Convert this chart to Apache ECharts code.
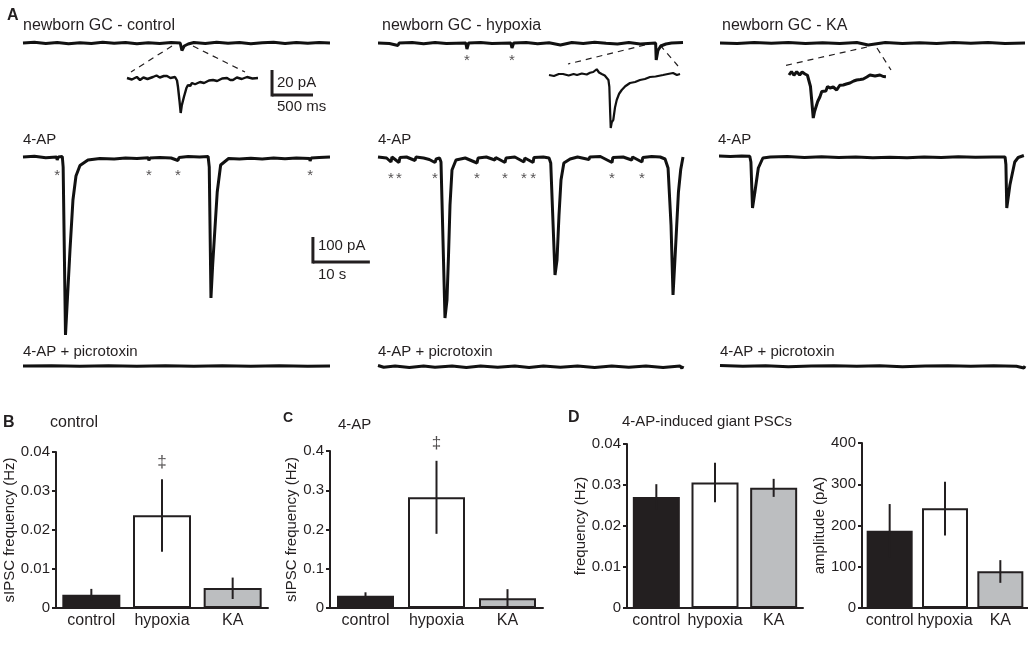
<!DOCTYPE html>
<html>
<head>
<meta charset="utf-8">
<script src="https://cdn.jsdelivr.net/npm/echarts@6/dist/echarts.min.js"></script>
<style>
html, body { margin: 0; padding: 0; background: #fff; }
#chart { width: 1028px; height: 651px; }
</style>
</head>
<body>
<div id="chart"></div>
<script>
// ---- bar chart data ----
const groups = ['control', 'hypoxia', 'KA']
const sipscCtrl = [0.0034, 0.0238, 0.0051]          // B
const sipscCtrlErr = [[0.0019, 0.0049], [0.0144, 0.033], [0.0023, 0.0078]]
const sipsc4ap = [0.031, 0.282, 0.025]               // C
const sipsc4apErr = [[0.022, 0.04], [0.189, 0.375], [0.002, 0.048]]
const giantFreq = [0.0271, 0.0306, 0.0293]           // D left
const giantFreqErr = [[0.024, 0.0302], [0.0258, 0.0354], [0.0271, 0.0315]]
const giantAmp = [187, 242, 89]                      // D right
const giantAmpErr = [[122, 252], [176, 306], [61, 116]]

// ---- traces: [time (s), current (pA)] ----
const ctrlBase = [[0,0],[2,3],[4,-2],[6,2],[8,-3],[10,1],[12,-2],[14,3],[16,-1],[18,2],[20,-3],[22,1],[24,-2],[26,2],[27.6,0],[27.9,-30],[28.3,-12],[29,-4],[30,2],[32,-2],[34,3],[36,-1],[38,2],[40,-3],[42,1],[44,3],[46,-2],[48,2],[50,-1],[52,2],[53.9,0]]
const hypoBase = [[0,0],[2,-2],[3.5,-10],[3.7,0],[6,2],[8,-3],[10,2],[12,-2],[15.4,0],[15.6,-24],[15.9,0],[18,2],[20,-2],[23.3,0],[23.5,-20],[23.8,0],[26,2],[28,-3],[30,1],[32,-8],[32.2,0],[34,2],[36,-2],[38,3],[40,-1],[42,-4],[44,2],[46,-4],[48.7,0],[48.8,-68],[49.1,-30],[49.6,-12],[50.5,-4],[51.5,0],[53.5,2]]
const kaBase = [[0,0],[3,-2],[6,2],[9,-1],[12,2],[15,-2],[18,1],[21,-2],[24,2],[26,-8],[26.3,0],[29,2],[32,-2],[35,1],[38,-2],[41,2],[44,-1],[47,2],[50,-2],[53.5,0]]

const ctrl4ap = [[0,0],[2,3],[4,-3],[5.9,0],[6.0,-12],[6.2,0],[6.9,2],[7.05,-40],[7.46,-712],[7.72,-600],[8.25,-372],[8.77,-172],[9.3,-76],[10.0,-34],[11.4,-12],[13.5,-6],[16,-8],[18,-4],[20,-6],[22,-3],[22.1,-14],[22.3,-4],[24,-2],[26,-4],[27.2,-14],[27.4,-2],[29,2],[31,0],[32.5,2],[32.7,-40],[33.0,-564],[33.3,-432],[34.1,-140],[34.7,-32],[36.1,-6],[38,-8],[40,-5],[42,-8],[44,-4],[46,-7],[48,-4],[50.3,-6],[50.4,-16],[50.6,-4],[52,-2],[53.9,0]]
const hypo4ap = [[0,0],[1.5,-4],[2.28,-20],[2.45,0],[3.68,-22],[3.85,-2],[5,0],[6.5,-14],[6.65,0],[8,-4],[9,-10],[10,-22],[10.2,-8],[10.8,-4],[11.05,-20],[11.75,-644],[12.1,-572],[12.37,-392],[12.63,-192],[12.98,-52],[13.68,-12],[15.3,-4],[17.37,-24],[17.55,-4],[19,0],[20.5,-12],[20.65,-2],[22.28,-22],[22.45,-4],[24,0],[25.6,-20],[25.75,-4],[27.2,-22],[27.35,-2],[29,0],[30.0,-4],[30.3,-24],[31.05,-472],[31.4,-412],[31.75,-232],[32.1,-92],[32.6,-24],[33.7,-8],[35,0],[37,-10],[37.15,0],[39,2],[41.05,-22],[41.2,-2],[43,0],[44.5,-12],[44.65,0],[46.3,-20],[46.45,-2],[48,2],[49.5,0],[50.35,-8],[50.88,-44],[51.4,-272],[51.75,-552],[52.1,-404],[52.7,-140],[53.1,-50],[53.5,0]]
const ka4ap = [[0,4],[2,2],[4,4],[5.4,3],[5.6,-20],[5.88,-204],[6.3,-140],[6.9,-44],[7.7,-4],[9,0],[12,2],[15,-2],[18,1],[21,-2],[24,0],[27,-3],[30,-1],[33,-3],[36,0],[39,-2],[42,1],[45,-1],[48,0],[50.2,0],[50.35,-30],[50.5,-204],[51.05,-112],[51.9,-20],[52.5,-2],[53.5,6]]

const ctrlPtx = [[0,0],[5,1],[10,-1],[15,1],[20,-1],[25,1],[30,-1],[35,1],[40,-1],[45,1],[50,-1],[53.9,0]]
const hypoPtx = [[0,2],[1,-5],[1.1,1],[3,0],[5.5,-6],[5.6,1],[8,0],[10,-5],[10.1,1],[13,0],[15.5,-6],[15.6,1],[18,0],[21,-5],[21.1,1],[24,0],[26.5,-6],[26.6,1],[29,0],[32,-5],[32.1,1],[35,0],[38,-6],[38.1,1],[41,0],[44,-5],[44.1,1],[47,0],[50,-6],[50.1,1],[53,0],[53.3,-10],[53.5,0]]
const kaPtx = [[0,2],[4,-1],[8,1],[12,-3],[12.1,1],[16,0],[20,1],[24,-1],[28,1],[32,-3],[32.1,1],[36,0],[40,1],[44,-1],[48,1],[52,-1],[53.3,-8],[53.5,0]]

// insets: [time (ms), current (pA)]
const ctrlInset = [[0,0],[60,-1.2],[120,0.8],[159,-1.6],[200,0.4],[250,-0.8],[317,0.8],[360,2],[400,0.4],[450,1.6],[488,1.6],[530,0],[586,0.8],[610,-2],[622,-7.2],[640,-18],[655,-28],[668,-22],[680,-23.2],[695,-15],[708,-12],[725,-8],[744,-5.6],[770,-6.4],[793,-4],[830,-5],[891,-3.2],[940,-4],[1000,-2],[1049,-1.6],[1100,-2.4],[1160,-0.4],[1220,0],[1260,-1.6],[1293,-1.6],[1340,0.4],[1400,-0.8],[1464,0.8],[1530,-0.4],[1598,0]]
const hypoInset = [[0,0],[60,-0.8],[120,0.8],[171,0.8],[240,-0.4],[300,0.8],[342,0],[400,1.2],[460,0.4],[500,1.8],[540,2.4],[582,4.6],[610,2],[643,0.8],[680,-0.4],[704,-1.4],[725,-4],[736,-9.4],[746,-30],[753,-42.4],[765,-38],[784,-36],[805,-26],[826,-20],[855,-15],[887,-12],[930,-9],[988,-6.4],[1050,-5.6],[1110,-4],[1170,-3.2],[1232,-1.6],[1300,-1.2],[1391,0],[1450,0.8],[1513,1.6],[1560,0],[1598,0.8]]
const kaInset = [[0,-0.8],[30,2],[60,-1],[94,1.8],[130,-0.8],[160,1.6],[195,0],[225,-1],[248,-2.2],[262,-10],[277,-20.8],[296,-35.2],[312,-30],[329,-28.8],[350,-22],[378,-18.2],[400,-14],[418,-12.8],[450,-13.6],[470,-10],[500,-11.2],[540,-10.4],[582,-12.8],[620,-9],[662,-8.8],[700,-8],[744,-7.2],[790,-5.6],[826,-4.8],[870,-4.4],[906,-4],[950,-2.4],[988,-0.8],[1050,-1.6],[1110,-0.8],[1150,-2],[1183,-2.2]]

// event markers (s)
const hypoStars = [15.6, 23.5]
const ctrl4apStars = [6.0, 22.1, 27.2, 50.4]
const hypo4apStars = [2.28, 3.68, 10.0, 17.37, 22.28, 25.6, 27.2, 41.05, 46.3]

const FONT = "'Liberation Sans', Arial, sans-serif"
const INK = '#231f20'
const fills = [INK, '#ffffff', '#bcbec0']

// trace panels: [left, top, width, height, xMin, xMax, yMin, yMax]
const traceBoxes = [
  [23, 30, 307, 40, 0, 53.9, -108, 52],
  [378, 30, 305, 40, 0, 53.5, -108, 52],
  [720, 30, 305, 40, 0, 53.5, -108, 52],
  [127, 62, 131, 56, 0, 1598, -32, 12.8],
  [549, 62, 132, 70, 0, 1610, -45.6, 10.4],
  [789, 62, 98, 62, 0, 1196, -40, 9.6],
  [23, 137, 307, 208, 0, 53.9, -752, 80],
  [378, 137, 305, 208, 0, 53.5, -752, 80],
  [719, 137, 306, 208, 0, 53.7, -752, 80],
  [23, 355, 307, 25, 0, 53.9, -56, 44],
  [378, 355, 305, 25, 0, 53.5, -56, 44],
  [720, 355, 305, 25, 0, 53.5, -56, 44]
]
const traces = [ctrlBase, hypoBase, kaBase, ctrlInset, hypoInset, kaInset, ctrl4ap, hypo4ap, ka4ap, ctrlPtx, hypoPtx, kaPtx]
const traceWidth = [3, 3, 3, 2.4, 2.2, 3, 3, 3, 3, 3, 3, 3]

// bar panels: [left, top, width, height, max, interval, name, nameGap, barWidth]
const barBoxes = [
  [56, 452, 212, 156, 0.04, 0.01, 'sIPSC frequency (Hz)', 33, 58],
  [330, 451, 213, 157, 0.4, 0.1, 'sIPSC frequency (Hz)', 29, 57],
  [627, 444, 176, 164, 0.04, 0.01, 'frequency (Hz)', 35, 47],
  [862, 443, 170, 165, 400, 100, 'amplitude (pA)', 29, 46]
]
const barVals = [sipscCtrl, sipsc4ap, giantFreq, giantAmp]
const barErrs = [sipscCtrlErr, sipsc4apErr, giantFreqErr, giantAmpErr]

const grid = [], xAxis = [], yAxis = [], series = []

traceBoxes.forEach((b, i) => {
  grid.push({ left: b[0], top: b[1], width: b[2], height: b[3] })
  xAxis.push({ type: 'value', gridIndex: i, min: b[4], max: b[5], show: false })
  yAxis.push({ type: 'value', gridIndex: i, min: b[6], max: b[7], show: false })
  series.push({
    type: 'line', xAxisIndex: i, yAxisIndex: i, data: traces[i],
    symbol: 'none', lineStyle: { color: '#111', width: traceWidth[i] }, z: 2
  })
})

function stars(gi, times, y) {
  return {
    type: 'scatter', xAxisIndex: gi, yAxisIndex: gi, symbolSize: 1,
    itemStyle: { color: 'rgba(0,0,0,0)' },
    label: { show: true, position: 'inside', formatter: '*', fontSize: 15, fontFamily: FONT, color: INK, offset: [0, 4] },
    data: times.map(t => [t, y])
  }
}
series.push(stars(1, hypoStars, -56))
series.push(stars(6, ctrl4apStars, -60))
series.push(stars(7, hypo4apStars, -72))

barBoxes.forEach((b, k) => {
  const gi = traceBoxes.length + k
  grid.push({ left: b[0], top: b[1], width: b[2], height: b[3] })
  xAxis.push({
    type: 'category', gridIndex: gi, data: groups,
    axisLine: { lineStyle: { color: INK, width: 2 } },
    axisTick: { show: false },
    axisLabel: { fontSize: 16, color: INK, fontFamily: FONT, margin: 5, interval: 0, hideOverlap: false }
  })
  yAxis.push({
    type: 'value', gridIndex: gi, min: 0, max: b[4], interval: b[5],
    name: b[6], nameLocation: 'middle', nameGap: b[7],
    nameTextStyle: { fontSize: 15, color: INK, fontFamily: FONT },
    axisLine: { show: true, lineStyle: { color: INK, width: 2 } },
    axisTick: { show: true, length: 4, lineStyle: { color: INK, width: 2 } },
    axisLabel: { fontSize: 15, color: INK, fontFamily: FONT, margin: 6 },
    splitLine: { show: false }
  })
  series.push({
    type: 'bar', xAxisIndex: gi, yAxisIndex: gi, barWidth: b[8],
    data: barVals[k].map((v, i) => ({ value: v, itemStyle: { color: fills[i] } })),
    itemStyle: { borderColor: INK, borderWidth: 2 }, z: 2
  })
  series.push({
    type: 'custom', xAxisIndex: gi, yAxisIndex: gi, z: 5,
    encode: { x: 0, y: [1, 2] },
    data: barErrs[k].map((r, i) => [i, r[0], r[1]]),
    renderItem(params, api) {
      const lo = api.coord([api.value(0), api.value(1)])
      const hi = api.coord([api.value(0), api.value(2)])
      return { type: 'line', shape: { x1: lo[0], y1: lo[1], x2: hi[0], y2: hi[1] }, style: { stroke: INK, lineWidth: 2 } }
    }
  })
})

// significance marks above hypoxia
function dagger(gi, y) {
  return {
    type: 'scatter', xAxisIndex: gi, yAxisIndex: gi, symbolSize: 1, clip: false,
    itemStyle: { color: 'rgba(0,0,0,0)' },
    label: { show: true, position: 'inside', formatter: '\u2021', fontSize: 17, fontFamily: FONT, color: INK },
    data: [[1, y]]
  }
}
series.push(dagger(12, 0.0374))
series.push(dagger(13, 0.42))

const chart = echarts.init(document.getElementById('chart'), null, { renderer: 'canvas' })
chart.setOption({ animation: false, grid, xAxis, yAxis, series })

// labels and scale bars
function txt(x, y, s, size, bold) {
  return { type: 'text', x, y, style: { text: s, fontSize: size, fontFamily: FONT, fontWeight: bold ? 'bold' : 'normal', fill: INK, verticalAlign: 'middle' } }
}
function seg(p, q, w, dash) {
  return { type: 'line', shape: { x1: p[0], y1: p[1], x2: q[0], y2: q[1] }, style: { stroke: INK, lineWidth: w, lineDash: dash || null } }
}
const px = (gi, pt) => chart.convertToPixel({ gridIndex: gi }, pt)

// 20 pA / 500 ms on the inset scale, 100 pA / 10 s on the 4-AP scale
const sbA = px(3, [1769, -13.6]), sbAv = px(3, [1769, 6.4]), sbAh = px(3, [2269, -13.6])
const sbB = px(6, [50.9, -420]), sbBv = px(6, [50.9, -320]), sbBh = px(6, [60.9, -420])

const dash = [6, 5]
chart.setOption({
  graphic: [
    txt(7, 16, 'A', 16, true),
    txt(23, 26, 'newborn GC - control', 16),
    txt(382, 26, 'newborn GC - hypoxia', 16),
    txt(722, 26, 'newborn GC - KA', 16),
    txt(23, 140, '4-AP', 15),
    txt(378, 140, '4-AP', 15),
    txt(718, 140, '4-AP', 15),
    txt(23, 352, '4-AP + picrotoxin', 15),
    txt(378, 352, '4-AP + picrotoxin', 15),
    txt(720, 352, '4-AP + picrotoxin', 15),
    txt(sbAh[0] - 36, sbAv[1] + 13, '20 pA', 15),
    txt(sbAh[0] - 36, sbA[1] + 12, '500 ms', 15),
    txt(sbB[0] + 5, sbBv[1] + 9, '100 pA', 15),
    txt(sbB[0] + 5, sbB[1] + 13, '10 s', 15),
    seg([sbA[0], sbAv[1]], [sbA[0], sbA[1] + 1.5], 3),
    seg(sbA, sbAh, 3),
    seg([sbB[0], sbBv[1]], [sbB[0], sbB[1] + 1.5], 3),
    seg(sbB, sbBh, 3),
    seg([172, 46], [131, 72], 1.2, dash),
    seg([193, 46], [245, 72], 1.2, dash),
    seg([645, 45], [568, 64], 1.2, dash),
    seg([660, 45], [678, 66], 1.2, dash),
    seg([867, 47], [783, 66], 1.2, dash),
    seg([877, 48], [891, 70], 1.2, dash),
    txt(3, 423, 'B', 16, true),
    txt(50, 423, 'control', 16),
    txt(283, 418, 'C', 14, true),
    txt(338, 425, '4-AP', 15),
    txt(568, 418, 'D', 16, true),
    txt(622, 422, '4-AP-induced giant PSCs', 15)
  ]
})
</script>
</body>
</html>
